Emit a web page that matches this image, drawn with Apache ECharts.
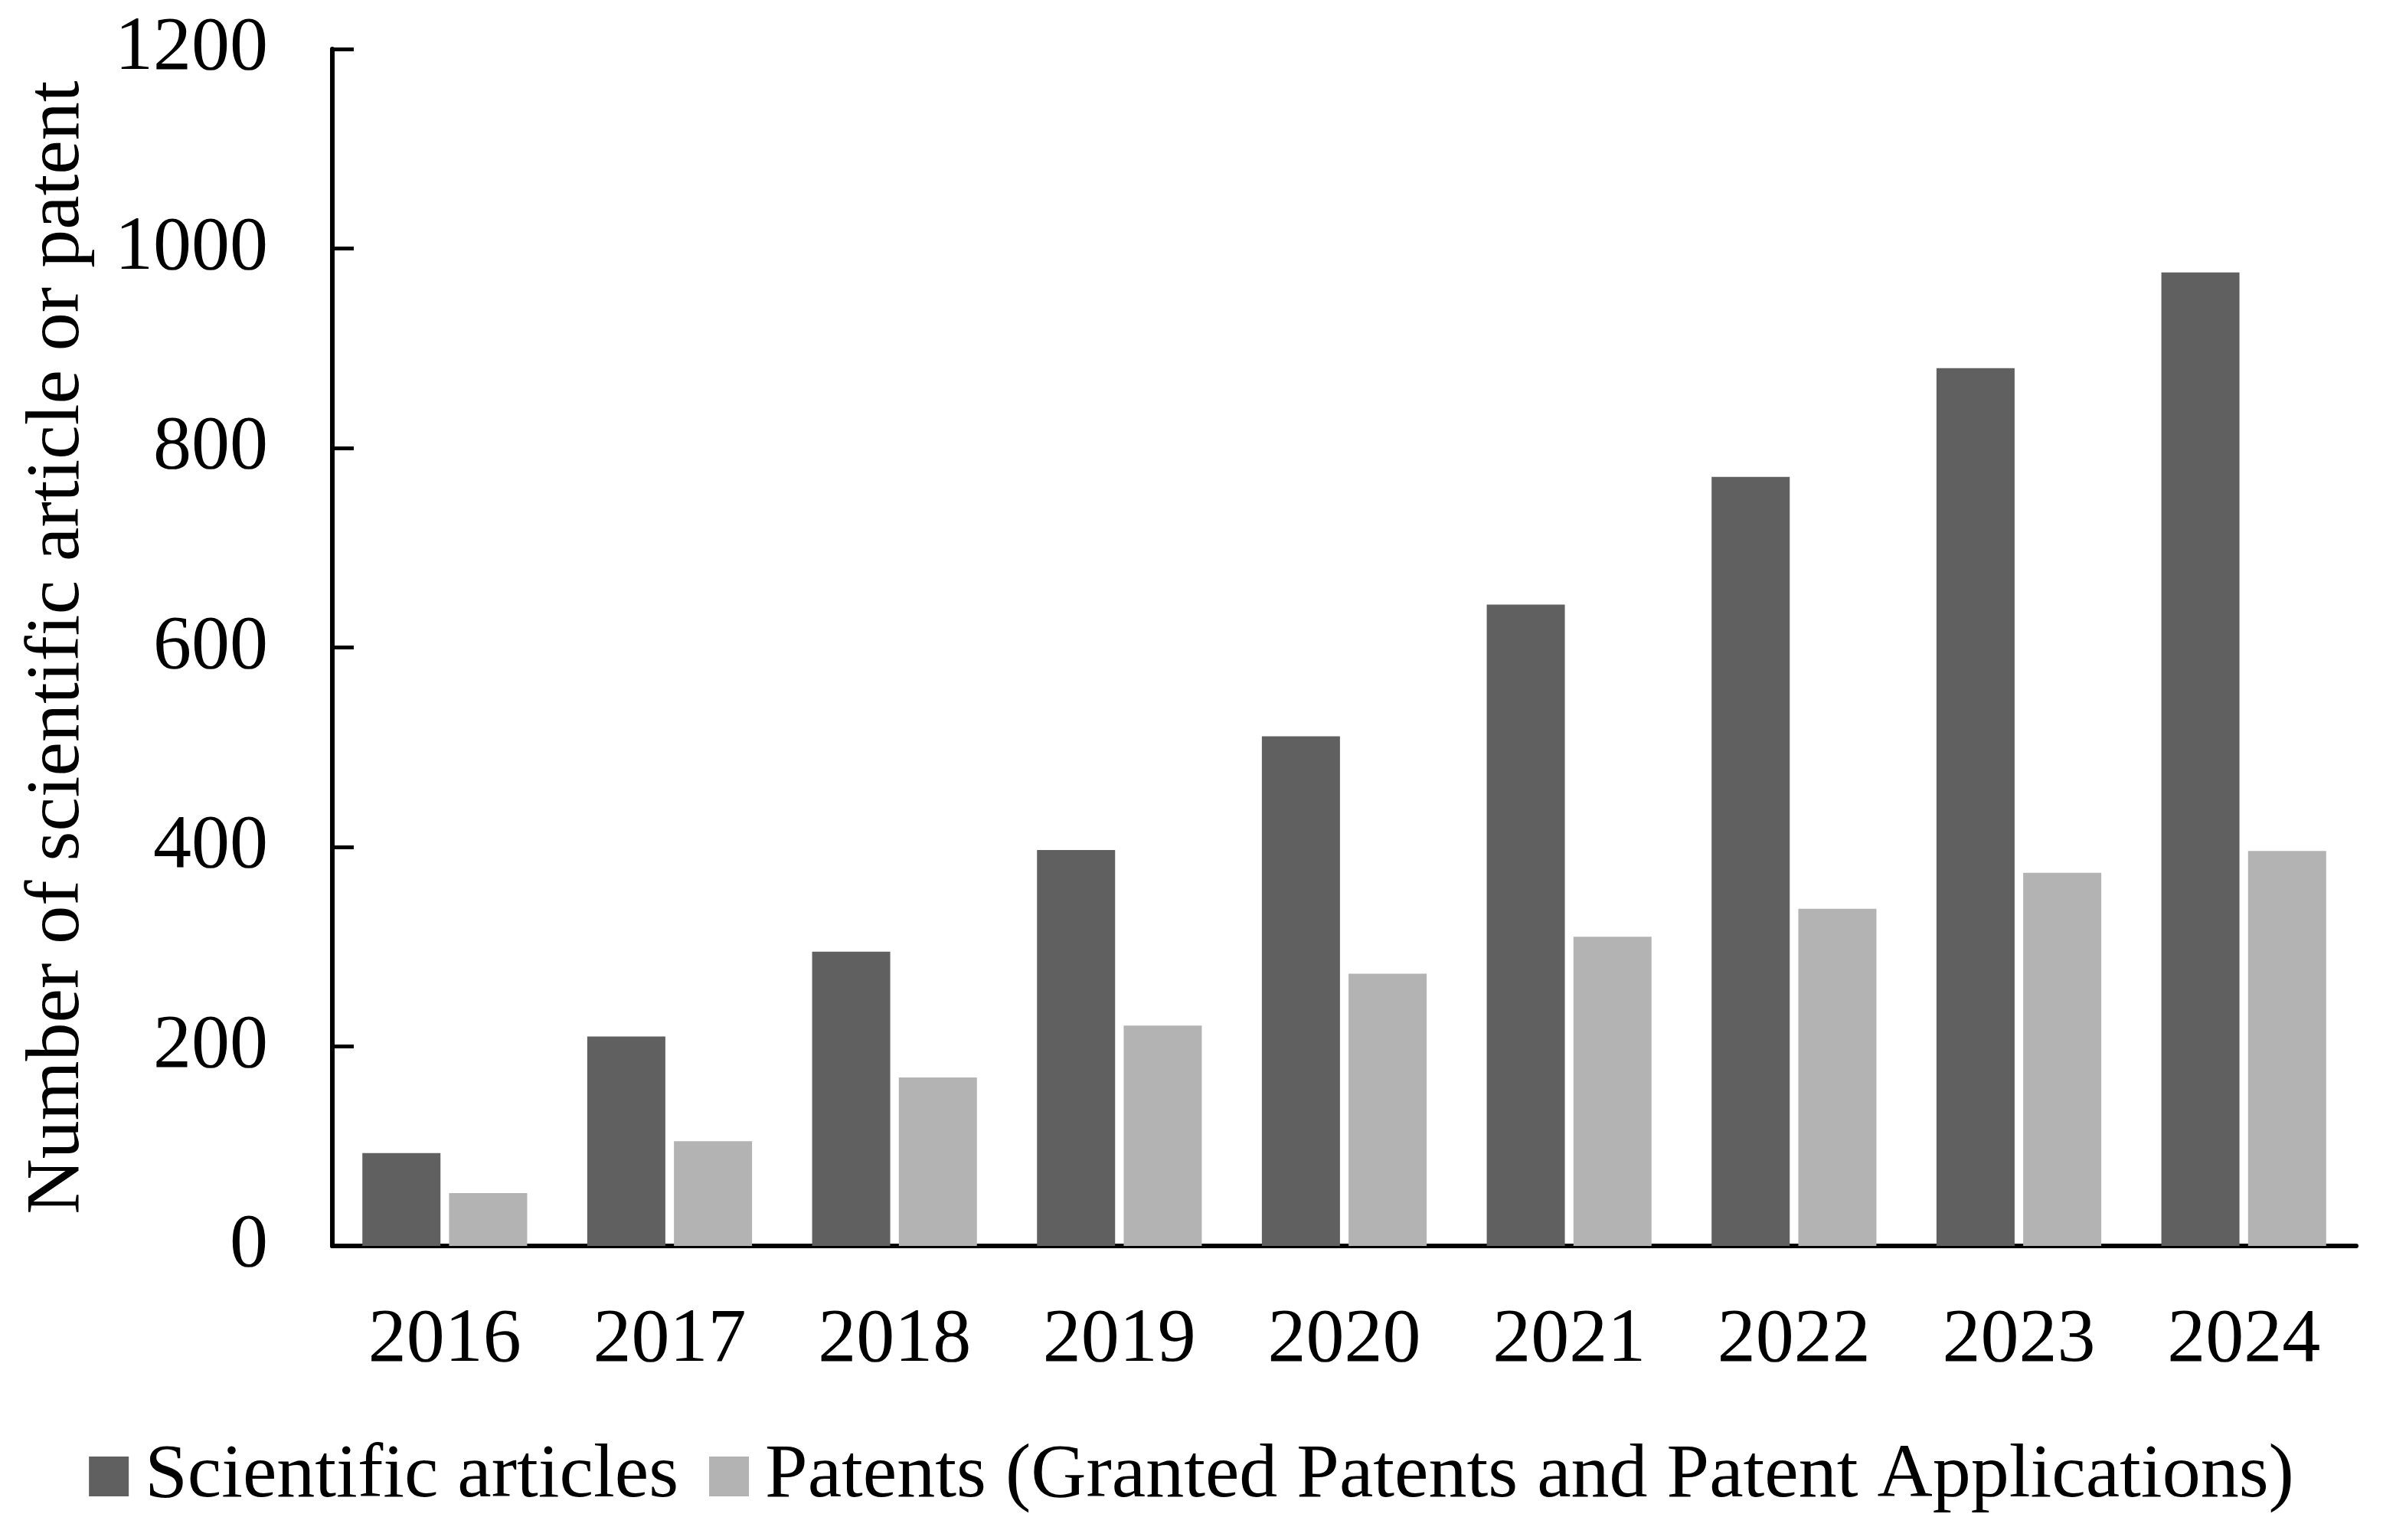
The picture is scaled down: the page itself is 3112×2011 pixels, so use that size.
<!DOCTYPE html>
<html>
<head>
<meta charset="utf-8">
<script src="https://cdn.jsdelivr.net/npm/echarts@6/dist/echarts.min.js"></script>
<style>html,body{margin:0;padding:0;background:#fff;}#c{width:3112px;height:2011px;}</style>
</head>
<body>
<div id="c"></div>
<script>
var years = ['2016','2017','2018','2019','2020','2021','2022','2023','2024'];
var articles = [93, 210, 295, 397, 511, 643, 771, 880, 976];
var patents = [53, 105, 169, 221, 273, 310, 338, 374, 396];
var seriesNames = ['Scientific articles', 'Patents (Granted Patents and Patent Applications)'];
var yTicks = {min: 0, max: 1200, interval: 200};
var yTitle = 'Number of scientific article or patent';

var FONT = '"Liberation Serif", "Times New Roman", serif';
var chart = echarts.init(document.getElementById('c'), null, {renderer: 'canvas'});
chart.setOption({
  backgroundColor: '#ffffff',
  animation: false,
  textStyle: {fontFamily: FONT, color: '#000'},
  grid: {left: 434, right: 35, top: 64, bottom: 384, containLabel: false},
  legend: {
    bottom: 28,
    left: 'center',
    itemWidth: 52,
    itemHeight: 52,
    itemGap: 40,
    icon: 'rect',
    textStyle: {fontFamily: FONT, fontSize: 100, color: '#000', padding: [0, 0, 0, 16]},
    data: seriesNames
  },
  xAxis: {
    type: 'category',
    data: years,
    axisLine: {lineStyle: {color: '#000', width: 6}},
    axisTick: {show: false},
    axisLabel: {fontFamily: FONT, fontSize: 100, color: '#000', margin: 74}
  },
  yAxis: {
    type: 'value',
    min: yTicks.min, max: yTicks.max, interval: yTicks.interval,
    name: yTitle,
    nameLocation: 'middle',
    nameRotate: 90,
    nameGap: 308,
    nameTextStyle: {fontFamily: FONT, fontSize: 100, color: '#000'},
    axisLine: {show: true, lineStyle: {color: '#000', width: 6}},
    axisTick: {show: true, inside: true, length: 28, lineStyle: {color: '#000', width: 5}},
    splitLine: {show: false},
    axisLabel: {fontFamily: FONT, fontSize: 100, color: '#000', margin: 84,
      formatter: function (v) { return String(v); }}
  },
  series: [
    {name: seriesNames[0], type: 'bar', data: articles, barWidth: 102, barGap: '11%', itemStyle: {color: '#606060'}},
    {name: seriesNames[1], type: 'bar', data: patents, barWidth: 102, barGap: '11%', itemStyle: {color: '#b3b3b3'}}
  ]
});
</script>
</body>
</html>
